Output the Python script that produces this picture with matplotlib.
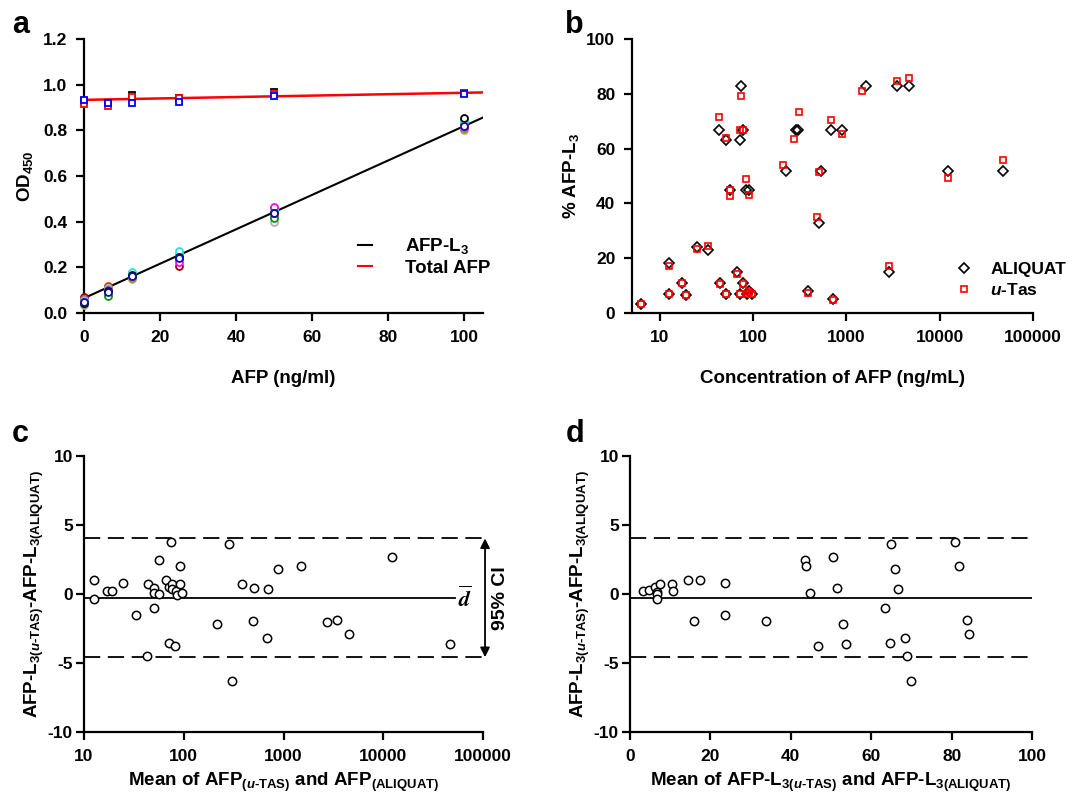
import matplotlib
matplotlib.use("Agg")
import matplotlib.pyplot as plt
import matplotlib.transforms as mtransforms
from matplotlib.lines import Line2D
from matplotlib.ticker import NullLocator, FormatStrFormatter

plt.rcParams.update({
    "font.family": ["Liberation Sans", "DejaVu Sans"],
    "font.weight": "bold",
    "axes.labelweight": "bold",
    "axes.unicode_minus": False,
    "mathtext.fontset": "custom",
    "mathtext.rm": "Liberation Sans:bold",
    "mathtext.bf": "Liberation Sans:bold",
    "mathtext.it": "Liberation Sans:italic:bold",
    "axes.linewidth": 1.6,
})

# ---- panel a: standard curves ----
AFP_CONC = [0, 6.25, 12.5, 25, 50, 100]
L3_GRAY = [0.035, 0.085, 0.150, 0.250, 0.400, 0.800]
L3_OLIVE = [0.040, 0.080, 0.155, 0.245, 0.420, 0.805]
L3_GREEN = [0.045, 0.075, 0.170, 0.255, 0.415, 0.830]
L3_MAROON = [0.070, 0.115, 0.160, 0.205, 0.450, 0.820]
L3_RED = [0.060, 0.120, 0.165, 0.235, 0.460, 0.825]
L3_LIME = [0.050, 0.110, 0.175, 0.260, 0.445, 0.840]
L3_CYAN = [0.055, 0.105, 0.180, 0.270, 0.450, 0.840]
L3_MAGENTA = [0.050, 0.100, 0.160, 0.225, 0.465, 0.815]
L3_BLACK = [0.045, 0.095, 0.165, 0.245, 0.440, 0.855]
L3_NAVY = [0.050, 0.090, 0.160, 0.240, 0.440, 0.820]
TOT_BLACK = [0.930, 0.920, 0.955, 0.940, 0.968, 0.962]
TOT_RED = [0.915, 0.905, 0.945, 0.940, 0.960, 0.965]
TOT_BLUE = [0.935, 0.920, 0.920, 0.925, 0.950, 0.960]
L3_FIT = (0.065, 0.00754)      # intercept, slope
TOTAL_FIT = (0.934, 0.00031)

# ---- panel b: %AFP-L3 vs concentration ----
ALIQ_X = [6.2, 12.4, 12.4, 17, 18.9, 24.9, 33, 43.4, 44, 51, 51, 56.9, 67, 71.8, 72,
          74.3, 78, 78, 82.6, 86, 91, 91, 97, 223, 290, 302, 386, 512, 530, 684, 713,
          891, 1630, 2838, 3524, 4668, 12400, 48200]
ALIQ_Y = [3.3, 18.2, 7, 11, 6.7, 24.2, 23, 67, 11, 63, 7, 45, 15, 7, 63,
          83, 11, 67, 45, 7, 45, 8, 7, 52, 67, 67, 8, 33, 52, 67, 5,
          67, 83, 15, 83, 83, 52, 52]
UTAS_X = [6.2, 12.4, 12.4, 17, 18.9, 24.9, 33, 43.4, 44, 51, 51, 56.9, 56.9, 67, 71.8,
          72, 74.3, 78, 78, 82.6, 86, 91, 91, 97, 209, 275, 310, 386, 486, 512, 684,
          713, 891, 1462, 2838, 3524, 4668, 12400, 48200]
UTAS_Y = [3.2, 17, 7, 11, 6.7, 23.3, 24.5, 71.5, 10.5, 64, 7, 45, 42.7, 14.2, 7,
          66.7, 79.2, 10.5, 66.7, 48.8, 7, 43, 7.5, 7, 54.2, 63.4, 73.3, 7.3, 35.2, 51.5, 70.3,
          4.8, 65.2, 81, 17, 84.8, 85.8, 49.3, 55.8]

# ---- panel c: Bland-Altman vs mean AFP ----
BA_AFP_MEAN = [12.6, 12.6, 16.9, 19.1, 24.8, 32.9, 43.5, 43.1, 50.7, 50, 50.7, 56.9, 57,
               65.8, 71.6, 71, 73.8, 76, 76, 81.5, 83.5, 84.6, 90.7, 90.7, 96.6, 213,
               281, 306, 386, 489, 509, 676, 702, 883, 1514, 2754, 3443, 4545, 12160, 46300]
BA_AFP_DIFF = [1.0, -0.33, 0.23, 0.23, 0.81, -1.49, 0.71, -4.5, 0.45, 0.1, -1.0, 2.48, 0.03,
               1.0, -3.52, 0.52, 3.78, 0.71, 0.33, -3.79, 0.2, -0.08, 2.0, 0.71, 0.08, -2.18,
               3.66, -6.3, 0.71, -1.97, 0.47, -3.18, 0.33, 1.8, 2.0, -2.02, -1.9, -2.89, 2.7, -3.59]

# ---- panel d: Bland-Altman vs mean %AFP-L3 ----
BA_L3_MEAN = [3.1, 4.7, 6.2, 6.6, 6.8, 6.8, 7.5, 10.5, 10.8, 14.4, 17.4, 15.9, 23.5, 23.7,
              33.9, 43.6, 43.8, 44.8, 46.7, 50.5, 51.6, 52.9, 53.6, 63.3, 64.6, 65.0, 66.0,
              66.6, 68.5, 69.0, 70.0, 80.9, 81.9, 83.8, 84.2]
BA_L3_DIFF = [0.2, 0.28, 0.52, 0.16, -0.01, -0.37, 0.71, 0.71, 0.2, 1.0, 1.0, -1.97, 0.81, -1.49,
              -1.97, 2.5, 2.0, 0.04, -3.79, 2.7, 0.47, -2.19, -3.59, -1.0, -3.52, 3.66, 1.8,
              0.33, -3.18, -4.48, -6.3, 3.78, 2.0, -1.9, -2.89]

BIAS = -0.27
LOA_UPPER = 4.03
LOA_LOWER = -4.58

TICK_FS = 12.5
LABEL_FS = 13.5
DASH = (0, (9, 4.2))


def style_axes(ax):
    for side in ("top", "right"):
        ax.spines[side].set_visible(False)
    ax.tick_params(direction="out", length=6, width=1.6, labelsize=TICK_FS, pad=6)


fig = plt.figure(figsize=(10.77, 7.96), dpi=100)
ax_a = fig.add_axes([0.078, 0.6068, 0.3705, 0.344])
ax_b = fig.add_axes([0.5868, 0.6068, 0.3723, 0.344])
ax_c = fig.add_axes([0.078, 0.0804, 0.3705, 0.3467])
ax_d = fig.add_axes([0.585, 0.0804, 0.3733, 0.3467])

# panel a
style_axes(ax_a)
xfit = [0, 105]
ax_a.plot(xfit, [L3_FIT[0] + L3_FIT[1] * x for x in xfit], color="black", lw=1.5, zorder=2)
ax_a.plot(xfit, [TOTAL_FIT[0] + TOTAL_FIT[1] * x for x in xfit], color="red", lw=1.8, zorder=2)
l3_series = [(L3_GRAY, "#b0b0b0"), (L3_OLIVE, "#9a9a20"), (L3_GREEN, "#109010"),
             (L3_MAROON, "#a00000"), (L3_RED, "#ff2020"), (L3_LIME, "#40ff40"),
             (L3_CYAN, "#20e8e8"), (L3_MAGENTA, "#ff00ff"), (L3_BLACK, "black"),
             (L3_NAVY, "#1010a0")]
for vals, col in l3_series:
    ax_a.plot(AFP_CONC, vals, ls="none", marker="o", ms=5, mfc="white", mec=col,
              mew=1.3, clip_on=False, zorder=3)
for vals, col in [(TOT_BLACK, "black"), (TOT_RED, "red"), (TOT_BLUE, "blue")]:
    ax_a.plot(AFP_CONC, vals, ls="none", marker="s", ms=5, mfc="white", mec=col,
              mew=1.3, clip_on=False, zorder=3)
ax_a.set_xlim(0, 105)
ax_a.set_ylim(0, 1.2)
ax_a.set_xticks([0, 20, 40, 60, 80, 100])
ax_a.set_yticks([0, 0.2, 0.4, 0.6, 0.8, 1.0, 1.2])
ax_a.yaxis.set_major_formatter(FormatStrFormatter("%.1f"))
ax_a.set_xlabel("AFP (ng/ml)", fontsize=LABEL_FS, labelpad=18)
ax_a.set_ylabel("OD$_{450}$", fontsize=LABEL_FS, labelpad=6)
handles = [Line2D([], [], color="black", lw=1.5), Line2D([], [], color="red", lw=1.5)]
ax_a.legend(handles, ["AFP-L$_3$", "Total AFP"], loc="upper left",
            bbox_to_anchor=(0.662, 0.315), frameon=False, fontsize=LABEL_FS,
            handlelength=0.75, handletextpad=1.8, borderpad=0, labelspacing=0.2)

# panel b
style_axes(ax_b)
ax_b.plot(ALIQ_X, ALIQ_Y, ls="none", marker="D", ms=5, mfc="none", mec="black",
          mew=1.2, label="ALIQUAT", clip_on=False)
ax_b.plot(UTAS_X, UTAS_Y, ls="none", marker="s", ms=5, mfc="none", mec="red",
          mew=1.2, label="$\\mathit{u}$-Tas", clip_on=False)
ax_b.set_xscale("log")
ax_b.set_xlim(5, 100000)
ax_b.set_ylim(0, 100)
ax_b.set_xticks([10, 100, 1000, 10000, 100000])
ax_b.set_xticklabels(["10", "100", "1000", "10000", "100000"])
ax_b.xaxis.set_minor_locator(NullLocator())
ax_b.set_yticks([0, 20, 40, 60, 80, 100])
ax_b.set_xlabel("Concentration of AFP (ng/mL)", fontsize=LABEL_FS, labelpad=18)
ax_b.set_ylabel("% AFP-L$_3$", fontsize=LABEL_FS, labelpad=4)
ax_b.legend(loc="upper left", bbox_to_anchor=(0.785, 0.22), frameon=False,
            fontsize=TICK_FS, handlelength=1.0, handletextpad=1.0, borderpad=0,
            labelspacing=0.3)

ba_ylabel = ("AFP-L$_{\\mathrm{3(}\\mathit{u}\\text{-TAS)}}$"
             "-AFP-L$_{\\mathrm{3(ALIQUAT)}}$")


def bland_altman(ax, xs, ys):
    style_axes(ax)
    ax.tick_params(axis="y", pad=2)
    ax.axhline(LOA_UPPER, color="black", lw=1.3, ls=DASH)
    ax.axhline(LOA_LOWER, color="black", lw=1.3, ls=DASH)
    ax.plot(xs, ys, ls="none", marker="o", ms=6, mfc="white", mec="black",
            mew=1.1, zorder=3)
    ax.set_ylim(-10, 10)
    ax.set_yticks([-10, -5, 0, 5, 10])
    ax.set_ylabel(ba_ylabel, fontsize=LABEL_FS, labelpad=1)


# panel c
bland_altman(ax_c, BA_AFP_MEAN, BA_AFP_DIFF)
ax_c.axhline(BIAS, xmax=0.93, color="black", lw=1.3)
ax_c.set_xscale("log")
ax_c.set_xlim(10, 100000)
ax_c.set_xticks([10, 100, 1000, 10000, 100000])
ax_c.set_xticklabels(["10", "100", "1000", "10000", "100000"])
ax_c.xaxis.set_minor_locator(NullLocator())
ax_c.set_xlabel("Mean of AFP$_{\\mathrm{(}\\mathit{u}\\text{-TAS)}}$ and AFP$_{\\mathrm{(ALIQUAT)}}$",
                fontsize=LABEL_FS, labelpad=5)
trans = mtransforms.blended_transform_factory(ax_c.transAxes, ax_c.transData)
ax_c.annotate("", xy=(1.005, LOA_UPPER), xytext=(1.005, LOA_LOWER),
              xycoords=trans, textcoords=trans, annotation_clip=False,
              arrowprops=dict(arrowstyle="<|-|>", color="black", lw=1.3,
                              mutation_scale=14, shrinkA=0, shrinkB=0))
ax_c.text(1.045, BIAS, "95% CI", transform=trans, rotation=90, ha="center",
          va="center", fontsize=LABEL_FS + 0.5)
ax_c.text(0.955, BIAS - 0.1, "$\\overline{d}$", transform=trans, ha="center", va="center",
          fontsize=16, math_fontfamily="stix")

# panel d
bland_altman(ax_d, BA_L3_MEAN, BA_L3_DIFF)
ax_d.axhline(BIAS, color="black", lw=1.3)
ax_d.set_xlim(0, 100)
ax_d.set_xticks([0, 20, 40, 60, 80, 100])
ax_d.set_xlabel("Mean of AFP-L$_{\\mathrm{3(}\\mathit{u}\\text{-TAS)}}$ and AFP-L$_{\\mathrm{3(ALIQUAT)}}$",
                fontsize=LABEL_FS, labelpad=5)

for letter, x, y in [("a", 0.011, 0.9585), ("b", 0.5245, 0.9585),
                     ("c", 0.011, 0.4447), ("d", 0.5255, 0.4447)]:
    fig.text(x, y, letter, fontsize=22, fontweight="bold", va="baseline")

fig.savefig("out.png", dpi=100)
